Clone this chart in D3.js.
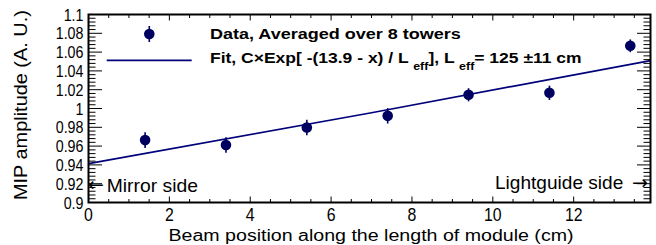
<!DOCTYPE html>
<html><head><meta charset="utf-8">
<script src="https://cdn.jsdelivr.net/npm/d3@7"></script>
<style>body{margin:0;background:#fff}svg{display:block}text{font-family:"Liberation Sans",Arial,sans-serif;fill:#000}</style>
</head><body>
<svg id="c" width="656" height="245"></svg>
<script>
// ---- data ----
const positions = [1.4, 3.4, 5.4, 7.4, 9.4, 11.4, 13.4];
const amplitudes = [0.9664, 0.9612, 0.9798, 0.9922, 1.0146, 1.0167, 1.0667];
const errors = [0.0083, 0.0082, 0.0083, 0.0082, 0.0070, 0.0076, 0.0068];
const fitX = [0, 7, 13.9];
const fitY = [0.9413, 0.9955, 1.051];
const xTicks = [0, 2, 4, 6, 8, 10, 12];
const yTicks = [0.9, 0.92, 0.94, 0.96, 0.98, 1, 1.02, 1.04, 1.06, 1.08, 1.1];
const yTickLabels = ["0.9","0.92","0.94","0.96","0.98","1","1.02","1.04","1.06","1.08","1.1"];
const xTitle = "Beam position along the length of module (cm)";
const yTitle = "MIP amplitude (A. U.)";
const legendData = "Data, Averaged over 8 towers";

const svg = d3.select("#c");
const L = 88.5, R = 650.5, T = 14.5, B = 202.5;
const x = d3.scaleLinear().domain([0, 13.9]).range([L, R]);
const y = d3.scaleLinear().domain([0.9, 1.1]).range([B, T]);
const navy = "#000060", lineCol = "#00007a";

// fit line
const line = d3.line().x(d => x(d[0])).y(d => y(d[1]));
svg.append("path").datum(d3.zip(fitX, fitY)).attr("d", line)
  .attr("fill", "none").attr("stroke", lineCol).attr("stroke-width", 1.7);

// points
const pts = svg.append("g");
positions.forEach((p, i) => {
  pts.append("line").attr("x1", x(p)).attr("x2", x(p))
    .attr("y1", y(amplitudes[i] - errors[i])).attr("y2", y(amplitudes[i] + errors[i]))
    .attr("stroke", navy).attr("stroke-width", 1.6);
  pts.append("circle").attr("cx", x(p)).attr("cy", y(amplitudes[i])).attr("r", 5.3).attr("fill", navy);
});

// axes ticks
const ax = svg.append("g").attr("stroke", "#000").attr("stroke-width", 1);
const yMinor = d3.range(0, 51).map(k => 0.9 + k * 0.004);
yMinor.forEach((v, k) => {
  const len = (k % 5 === 0) ? 13.5 : 7;
  ax.append("line").attr("x1", L).attr("x2", L + len).attr("y1", y(v)).attr("y2", y(v));
  ax.append("line").attr("x1", R).attr("x2", R - len).attr("y1", y(v)).attr("y2", y(v));
});
const xMinor = d3.range(0, 28).map(k => k * 0.5);
xMinor.forEach((v, k) => {
  const len = (k % 4 === 0) ? 6 : 3.5;
  ax.append("line").attr("x1", x(v)).attr("x2", x(v)).attr("y1", B).attr("y2", B - len);
  ax.append("line").attr("x1", x(v)).attr("x2", x(v)).attr("y1", T).attr("y2", T + len);
});
svg.append("rect").attr("x", L).attr("y", T).attr("width", R - L).attr("height", B - T)
  .attr("fill", "none").attr("stroke", "#000").attr("stroke-width", 2);

// tick labels (slightly condensed, as in the reference)
svg.append("g").selectAll("text").data(yTicks).join("text")
  .attr("transform", d => `translate(83.5,${y(d)}) scale(0.84,1)`)
  .attr("dy", "0.36em").attr("text-anchor", "end")
  .attr("font-size", 17).text((d, i) => yTickLabels[i]);
svg.append("g").selectAll("text").data(xTicks).join("text")
  .attr("transform", d => `translate(${x(d)},221) scale(0.88,1)`)
  .attr("text-anchor", "middle")
  .attr("font-size", 18).text(d => d);

// helper: place text so it spans [x0, x1]
function fitText(sel, x0, x1, yb) {
  const w = sel.node().getBBox().width;
  const s = (x1 - x0) / w;
  sel.attr("transform", `translate(${x0},${yb}) scale(${s},1)`);
}

// titles
const xt = svg.append("text").attr("font-size", 16).text(xTitle);
fitText(xt, 168.5, 574, 240.5);
const yt = svg.append("text").attr("font-size", 18).text(yTitle);
{
  const w = yt.node().getBBox().width, s = 190 / w;
  yt.attr("transform", `translate(26.5,200) rotate(-90) scale(${s},1)`);
}

// legend
svg.append("line").attr("x1", 149.3).attr("x2", 149.3).attr("y1", 26).attr("y2", 42)
  .attr("stroke", navy).attr("stroke-width", 1.6);
svg.append("circle").attr("cx", 149.3).attr("cy", 34).attr("r", 5.3).attr("fill", navy);
svg.append("line").attr("x1", 106.7).attr("x2", 191.7).attr("y1", 60.3).attr("y2", 60.3)
  .attr("stroke", lineCol).attr("stroke-width", 1.7);
const l1 = svg.append("text").attr("font-size", 15.5).attr("font-weight", "bold").text(legendData);
fitText(l1, 210, 461, 39.3);
const l2 = svg.append("text").attr("font-size", 15.5).attr("font-weight", "bold");
l2.append("tspan").text("Fit, C\u00d7Exp[ -(13.9 - x) / L");
l2.append("tspan").attr("dx", 4).attr("dy", 7).attr("font-size", 11).text("eff");
l2.append("tspan").attr("dy", -7).text("], L");
l2.append("tspan").attr("dx", 4).attr("dy", 7).attr("font-size", 11).text("eff");
l2.append("tspan").attr("dy", -7).text("= 125 \u00b111 cm");
fitText(l2, 210, 582, 63.3);

// side annotations
svg.append("text").attr("x", 88).attr("y", 191).attr("font-size", 19)
  .style("font-family", "'DejaVu Sans'").text("\u2190");
const mt = svg.append("text").attr("font-size", 17.5).text("Mirror side");
fitText(mt, 106.7, 198, 191.5);
const lt = svg.append("text").attr("font-size", 17.5).text("Lightguide side");
fitText(lt, 495, 623.3, 189.3);
svg.append("text").attr("x", 632).attr("y", 189).attr("font-size", 19)
  .style("font-family", "'DejaVu Sans'").text("\u2192");
</script>
</body></html>
